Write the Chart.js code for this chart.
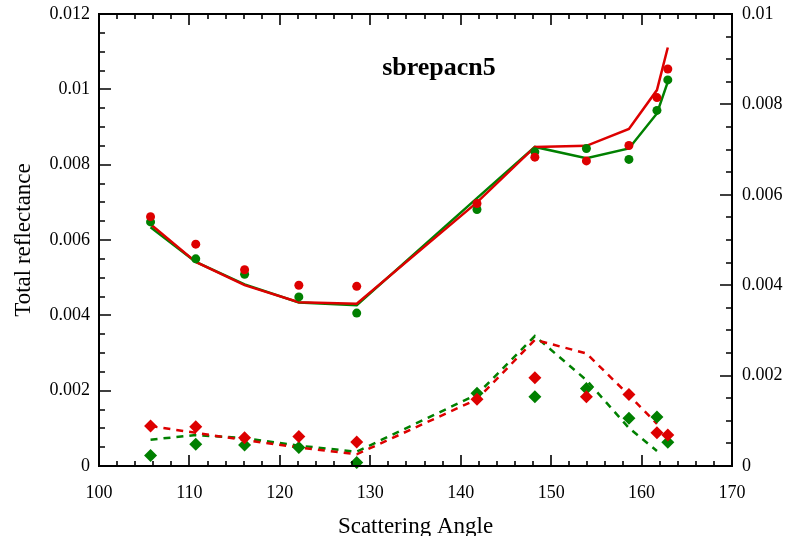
<!DOCTYPE html>
<html>
<head>
<meta charset="utf-8">
<script src="https://cdn.jsdelivr.net/npm/chart.js@4/dist/chart.umd.min.js"></script>
<style>
  html, body { margin: 0; padding: 0; background: #fff; }
  #wrap { width: 790px; height: 536px; }
</style>
</head>
<body>
<div id="wrap"><canvas id="myChart" width="790" height="536"></canvas></div>
<script>
var angles = [105.7, 110.7, 116.1, 122.1, 128.5, 141.8, 148.2, 153.9, 158.6, 161.7, 162.9];

// total reflectance, solid model curves
var redModel   = [0.00642, 0.00542, 0.00480, 0.00435, 0.00431, 0.00700, 0.00847, 0.00850, 0.00895, 0.00998, 0.01111];
var greenModel = [0.00634, 0.00542, 0.00482, 0.00434, 0.00427, 0.00711, 0.00847, 0.00817, 0.00843, 0.00936, 0.01020];
// measured points (circles)
var redObs   = [0.00662, 0.00589, 0.00521, 0.00480, 0.00477, 0.00697, 0.00820, 0.00810, 0.00851, 0.00978, 0.01054];
var greenObs = [0.00648, 0.00550, 0.00509, 0.00449, 0.00406, 0.00681, 0.00834, 0.00843, 0.00814, 0.00944, 0.01025];
// lower set: diamonds and dashed curves
var redDiam   = [0.00106, 0.00104, 0.00075, 0.00078, 0.00064, 0.00177, 0.00234, 0.00184, 0.00190, 0.00088, 0.00082];
var greenDiam = [0.00028, 0.00058, 0.00056, 0.00049, 0.00009, 0.00193, 0.00184, 0.00206, 0.00127, 0.00130, 0.00063];
var redDash   = [0.00106, 0.00088, 0.00069, 0.00049, 0.00031, 0.00177, 0.00335, 0.00299, 0.00188, 0.00112, null];
var greenDash = [0.00070, 0.00082, 0.00074, 0.00054, 0.00038, 0.00190, 0.00345, 0.00228, 0.00101, 0.00040, null];

var xTicks = [100, 110, 120, 130, 140, 150, 160, 170];
var yTicks = [0, 0.002, 0.004, 0.006, 0.008, 0.01, 0.012];
var y2Ticks = [0, 0.002, 0.004, 0.006, 0.008, 0.01];

var RED = '#dd0000';
var GREEN = '#008000';

function pts(arr) {
    return angles.map(function (a, i) { return {x: a, y: arr[i]}; });
}

function fmt(v) {
    return String(+v.toFixed(3));
}

function fixWidth(w) {
    return function (s) {
        s.width = w;
        s.paddingTop = 0;
        s.paddingBottom = 0;
    };
}

// inward tick marks on all four sides plus the frame
var frameTicks = {
    id: 'frameTicks',
    afterDatasetsDraw: function (chart) {
        var c = chart.ctx, a = chart.chartArea;
        var xs = chart.scales.x, ys = chart.scales.y, y2 = chart.scales.y2;
        c.save();
        c.strokeStyle = '#000';
        c.lineWidth = 2;
        c.strokeRect(a.left, a.top, a.right - a.left, a.bottom - a.top);
        c.lineWidth = 1.6;
        c.beginPath();
        for (var v = 100; v <= 170.001; v += 2) {
            var px = Math.round(xs.getPixelForValue(v));
            var len = (Math.round(v) % 10 === 0) ? 11 : 5;
            c.moveTo(px, a.bottom); c.lineTo(px, a.bottom - len);
            c.moveTo(px, a.top); c.lineTo(px, a.top + len);
        }
        for (var i = 0; i <= 24; i++) {
            var py = Math.round(ys.getPixelForValue(i * 0.0005));
            var l = (i % 4 === 0) ? 12 : 6;
            c.moveTo(a.left, py); c.lineTo(a.left + l, py);
        }
        for (var j = 0; j <= 20; j++) {
            var py2 = Math.round(y2.getPixelForValue(j * 0.0005));
            var l2 = (j % 4 === 0) ? 12 : 6;
            c.moveTo(a.right, py2); c.lineTo(a.right - l2, py2);
        }
        c.stroke();
        // label inside the plot
        c.fillStyle = '#000';
        c.font = 'bold 26px "Liberation Serif"';
        c.textAlign = 'center';
        c.textBaseline = 'alphabetic';
        c.fillText('sbrepacn5', 439, 75);
        c.restore();
    }
};

var tickFont = {family: '"Liberation Serif"', size: 18};

var ctx = document.getElementById("myChart");
var myChart = new Chart(ctx, {
    type: 'line',
    data: {
        datasets: [{
            label: 'red obs',
            data: pts(redObs),
            showLine: false,
            pointStyle: 'circle',
            pointRadius: 4.5,
            backgroundColor: RED,
            borderColor: RED,
            borderWidth: 0,
            order: 0
        }, {
            label: 'green obs',
            data: pts(greenObs),
            showLine: false,
            pointStyle: 'circle',
            pointRadius: 4.5,
            backgroundColor: GREEN,
            borderColor: GREEN,
            borderWidth: 0,
            order: 0
        }, {
            label: 'red diamonds',
            data: pts(redDiam),
            showLine: false,
            pointStyle: 'rectRot',
            pointRadius: 6.5,
            backgroundColor: RED,
            borderColor: RED,
            borderWidth: 0,
            order: 0
        }, {
            label: 'green diamonds',
            data: pts(greenDiam),
            showLine: false,
            pointStyle: 'rectRot',
            pointRadius: 6.5,
            backgroundColor: GREEN,
            borderColor: GREEN,
            borderWidth: 0,
            order: 0
        }, {
            label: 'green model',
            data: pts(greenModel),
            borderColor: GREEN,
            borderWidth: 2.5,
            pointRadius: 0,
            order: 2
        }, {
            label: 'red model',
            data: pts(redModel),
            borderColor: RED,
            borderWidth: 2.5,
            pointRadius: 0,
            order: 1
        }, {
            label: 'green dashed',
            data: pts(greenDash),
            borderColor: GREEN,
            borderWidth: 2.5,
            borderDash: [7, 6],
            pointRadius: 0,
            order: 2
        }, {
            label: 'red dashed',
            data: pts(redDash),
            borderColor: RED,
            borderWidth: 2.5,
            borderDash: [7, 6],
            pointRadius: 0,
            order: 1
        }]
    },
    options: {
        responsive: false,
        animation: false,
        clip: false,
        layout: {padding: {top: 14, left: 0, right: 0, bottom: 0}},
        plugins: {
            legend: {display: false},
            title: {display: false},
            tooltip: {enabled: false}
        },
        scales: {
            x: {
                type: 'linear',
                min: 100,
                max: 170,
                afterBuildTicks: function (s) { s.ticks = xTicks.map(function (v) { return {value: v}; }); },
                afterFit: function (s) { s.height = 70; s.paddingLeft = 0; s.paddingRight = 0; },
                grid: {display: false, drawTicks: false, tickLength: 0},
                border: {display: false},
                ticks: {font: tickFont, color: '#000', padding: 16, maxRotation: 0},
                title: {
                    display: true,
                    text: 'Scattering Angle',
                    color: '#000',
                    font: {family: '"Liberation Serif"', size: 23},
                    padding: {top: 0, bottom: -5}
                }
            },
            y: {
                type: 'linear',
                position: 'left',
                min: 0,
                max: 0.012,
                afterBuildTicks: function (s) { s.ticks = yTicks.map(function (v) { return {value: v}; }); },
                afterFit: fixWidth(99),
                grid: {display: false, drawTicks: false, tickLength: 0},
                border: {display: false},
                ticks: {font: tickFont, color: '#000', padding: 9, callback: fmt},
                title: {
                    display: true,
                    text: 'Total reflectance',
                    color: '#000',
                    font: {family: '"Liberation Serif"', size: 23},
                    padding: {top: 10, bottom: 0}
                }
            },
            y2: {
                type: 'linear',
                position: 'right',
                min: 0,
                max: 0.01,
                afterBuildTicks: function (s) { s.ticks = y2Ticks.map(function (v) { return {value: v}; }); },
                afterFit: fixWidth(58),
                grid: {display: false, drawTicks: false, tickLength: 0},
                border: {display: false},
                ticks: {font: tickFont, color: '#000', padding: 10, callback: fmt}
            }
        }
    },
    plugins: [frameTicks]
});
</script>
</body>
</html>
